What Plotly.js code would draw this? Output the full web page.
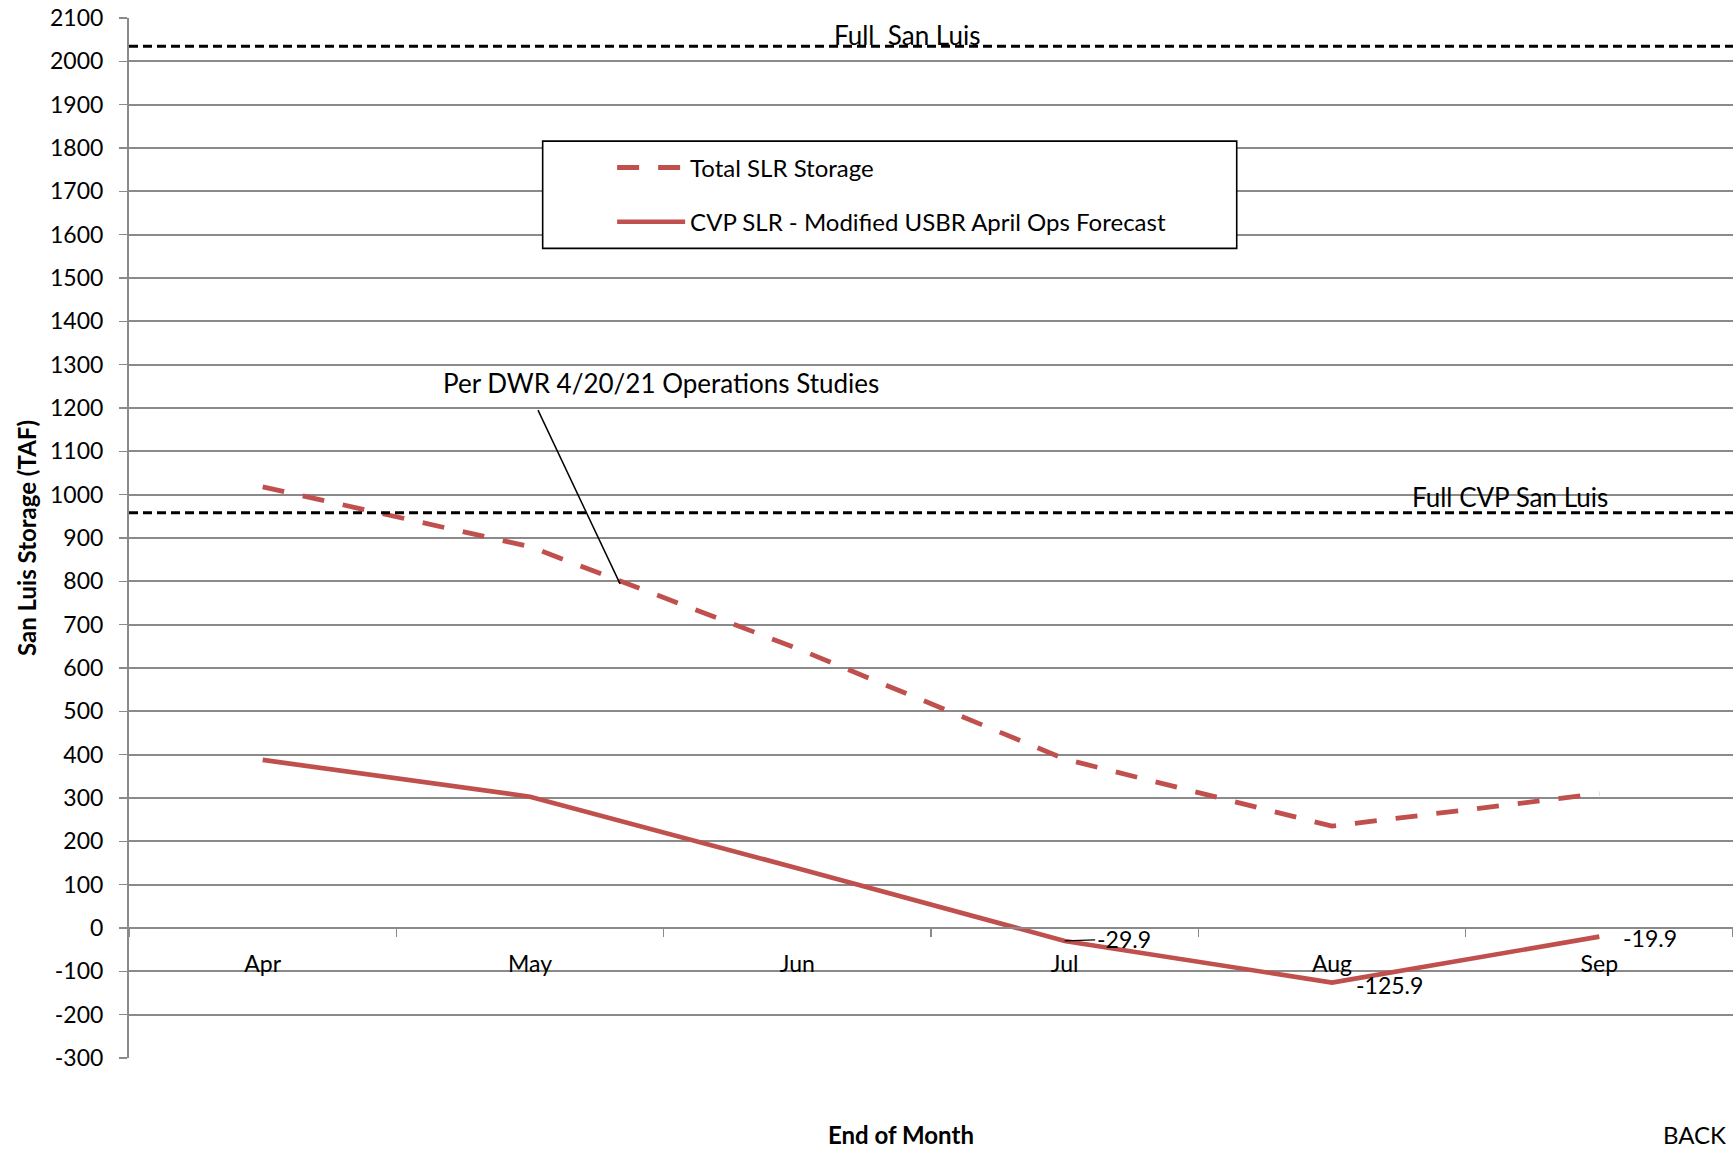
<!DOCTYPE html>
<html>
<head>
<meta charset="utf-8">
<script src="https://cdn.plot.ly/plotly-3.0.1.min.js"></script>
<style>
  html, body { margin: 0; padding: 0; background: #fff; }
  #chart { width: 1733px; height: 1149px; }
</style>
</head>
<body>
<div id="chart"></div>
<script>
// ---- data ----
const months = ['Apr', 'May', 'Jun', 'Jul', 'Aug', 'Sep'];
const totalSLR = [1018, 880, 645, 390, 235, 310];
const cvpSLR = [388, 303, 138, -29.9, -125.9, -19.9];
const fullSanLuis = 2035;
const fullCVPSanLuis = 958;
const yTickVals = [-300, -200, -100, 0, 100, 200, 300, 400, 500, 600, 700, 800, 900, 1000,
  1100, 1200, 1300, 1400, 1500, 1600, 1700, 1800, 1900, 2000, 2100];
const seriesNames = ['Total SLR Storage', 'CVP SLR - Modified USBR April Ops Forecast'];
const refLabels = ['Full&nbsp; San Luis', 'Full CVP San Luis'];
const noteText = 'Per DWR 4/20/21 Operations Studies';

const FONT = 'Lato, "Liberation Sans", sans-serif';
const RED = '#C0504D';
const GRID = '#8a8a8a';

const traces = [
  {
    x: months, y: totalSLR, type: 'scatter', mode: 'lines', name: seriesNames[0],
    legendgroup: 'a',
    line: { color: RED, width: 4.8, dash: '22px,19px' }, hoverinfo: 'x+y'
  },
  {
    x: months, y: cvpSLR, type: 'scatter', mode: 'lines', name: seriesNames[1],
    legendgroup: 'b',
    line: { color: RED, width: 4.6 }, hoverinfo: 'x+y'
  }
];

const labelFont = { family: FONT, size: 23, color: '#000' };
const bigFont = { family: FONT, size: 26, color: '#000' };

const layout = {
  width: 1733, height: 1149,
  margin: { l: 129, r: 0, t: 18, b: 91, pad: 0 },
  paper_bgcolor: '#fff', plot_bgcolor: '#fff',
  font: { family: FONT, size: 23, color: '#000' },
  showlegend: true,
  legend: {
    x: 0.3012, y: 0.8775, xanchor: 'left', yanchor: 'top',
    bgcolor: 'rgba(0,0,0,0)', borderwidth: 0,
    font: { family: FONT, size: 24, color: '#000' },
    itemwidth: 68, tracegroupgap: 20, traceorder: 'grouped'
  },
  xaxis: {
    type: 'category', categoryorder: 'array', categoryarray: months,
    range: [-0.5, 5.5], anchor: 'free', position: 0.125,
    showgrid: false, zeroline: false,
    showline: true, linecolor: GRID, linewidth: 2,
    ticks: 'outside', tickson: 'boundaries', ticklen: 8, tickcolor: GRID, tickwidth: 1.5,
    tickfont: labelFont, ticklabelstandoff: 15, fixedrange: true
  },
  yaxis: {
    range: [-300, 2100], tickvals: yTickVals, ticktext: yTickVals.map(String),
    showgrid: true, gridcolor: GRID, gridwidth: 1.8, zeroline: false,
    showline: true, linecolor: GRID, linewidth: 2,
    ticks: 'outside', ticklen: 8, tickcolor: GRID, tickwidth: 1.5,
    tickfont: labelFont, ticklabelstandoff: 11,
    title: { text: 'San Luis Storage (TAF)', font: { family: FONT, size: 24, color: '#000', weight: 'bold' }, standoff: 7 },
    automargin: false, fixedrange: true
  },
  shapes: [
    { type: 'line', xref: 'paper', yref: 'y', x0: 0, x1: 1, y0: fullSanLuis, y1: fullSanLuis,
      line: { color: '#000', width: 3, dash: '9px,5px' }, layer: 'above' },
    { type: 'line', xref: 'paper', yref: 'y', x0: 0, x1: 1, y0: fullCVPSanLuis, y1: fullCVPSanLuis,
      line: { color: '#000', width: 3, dash: '9px,5px' }, layer: 'above' },
    { type: 'rect', xref: 'paper', yref: 'paper', x0: 0.2579, x1: 0.6906, y0: 0.7785, y1: 0.8816,
      fillcolor: '#fff', line: { color: '#000', width: 1.6 }, layer: 'above' },
    { type: 'line', xref: 'x', yref: 'y', x0: 1.03, y0: 1195, x1: 1.337, y1: 794,
      line: { color: '#000', width: 1.5 }, layer: 'above' }
  ],
  annotations: [
    { xref: 'paper', yref: 'y', x: 0.4851, y: fullSanLuis, xanchor: 'center', yanchor: 'middle', yshift: 11,
      text: refLabels[0], showarrow: false, font: bigFont },
    { xref: 'paper', yref: 'y', x: 0.8607, y: fullCVPSanLuis, xanchor: 'center', yanchor: 'middle', yshift: 15.5,
      text: refLabels[1], showarrow: false, font: bigFont },
    { xref: 'paper', yref: 'paper', x: 0.3317, y: 0.649, xanchor: 'center', yanchor: 'middle',
      text: noteText, showarrow: false, font: bigFont },
    { xref: 'x', yref: 'y', x: months[3], y: cvpSLR[3], text: String(cvpSLR[3]),
      showarrow: true, arrowhead: 0, arrowwidth: 1.2, arrowcolor: '#000', ax: 59, ay: -2,
      font: labelFont },
    { xref: 'x', yref: 'y', x: months[4], y: cvpSLR[4], text: String(cvpSLR[4]),
      xanchor: 'center', yanchor: 'middle',
      showarrow: false, xshift: 57, yshift: -2, font: labelFont },
    { xref: 'x', yref: 'y', x: months[5], y: cvpSLR[5], text: String(cvpSLR[5]),
      xanchor: 'center', yanchor: 'middle',
      showarrow: false, xshift: 51, yshift: -1, font: labelFont },
    { xref: 'paper', yref: 'paper', x: 0.481, y: -0.0736, xanchor: 'center', yanchor: 'middle',
      text: '<b>End of Month</b>', showarrow: false,
      font: { family: FONT, size: 24, color: '#000' } },
    { xref: 'paper', yref: 'paper', x: 0.9757, y: -0.0736, xanchor: 'center', yanchor: 'middle',
      text: 'BACK', showarrow: false,
      font: { family: FONT, size: 24, color: '#000' } }
  ]
};

Plotly.newPlot('chart', traces, layout, { staticPlot: true, displayModeBar: false });
</script>
</body>
</html>
